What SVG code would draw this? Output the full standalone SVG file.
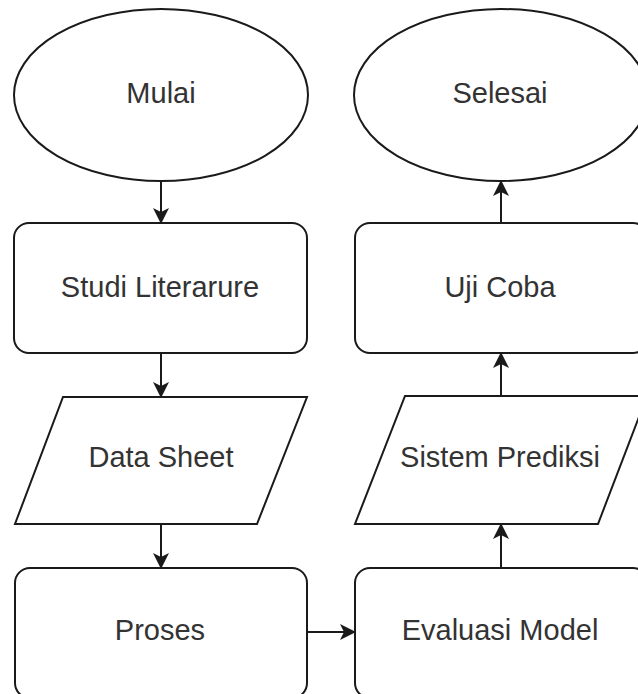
<svg xmlns="http://www.w3.org/2000/svg" width="638" height="694" viewBox="0 0 638 694">
  <style>
    .shape { fill: #ffffff; stroke: #1a1a1a; stroke-width: 2; }
    .label { font-family: "Liberation Sans", Arial, sans-serif; font-size: 29px; fill: #333333; text-anchor: middle; }
    .edge { fill: none; stroke: #1a1a1a; stroke-width: 2; marker-end: url(#arrow); }
  </style>
  <defs>
    <marker id="arrow" markerUnits="userSpaceOnUse" markerWidth="18" markerHeight="18" refX="15" refY="9" orient="auto">
      <path d="M0,1 L16,9 L0,17 L4,9 z" fill="#1a1a1a"/>
    </marker>
  </defs>
  <rect width="638" height="694" fill="#ffffff"/>

  <!-- left column -->
  <g id="mulai">
    <ellipse class="shape" cx="161" cy="95" rx="147" ry="86"/>
    <text class="label" x="161" y="103">Mulai</text>
  </g>
  <g id="studi-literarure">
    <rect class="shape" x="14" y="223" width="293" height="130" rx="15" ry="15"/>
    <text class="label" x="160" y="297">Studi Literarure</text>
  </g>
  <g id="data-sheet">
    <polygon class="shape" points="63,397 307,397 257,524 15,524"/>
    <text class="label" x="161" y="467">Data Sheet</text>
  </g>
  <g id="proses">
    <rect class="shape" x="15" y="568" width="292" height="130" rx="15" ry="15"/>
    <text class="label" x="160" y="640">Proses</text>
  </g>

  <!-- right column -->
  <g id="selesai">
    <ellipse class="shape" cx="501" cy="95" rx="147" ry="86"/>
    <text class="label" x="500" y="103">Selesai</text>
  </g>
  <g id="uji-coba">
    <rect class="shape" x="355" y="223" width="293" height="130" rx="15" ry="15"/>
    <text class="label" x="500" y="297">Uji Coba</text>
  </g>
  <g id="sistem-prediksi">
    <polygon class="shape" points="405,396 647,396 598,524 355,524"/>
    <text class="label" x="500" y="467">Sistem Prediksi</text>
  </g>
  <g id="evaluasi-model">
    <rect class="shape" x="355" y="568" width="293" height="130" rx="15" ry="15"/>
    <text class="label" x="500" y="640">Evaluasi Model</text>
  </g>

  <!-- connectors -->
  <g id="connectors">
    <path class="edge" d="M161,181 V223"/>
    <path class="edge" d="M161,353 V397"/>
    <path class="edge" d="M161,524 V568"/>
    <path class="edge" d="M307,632 H355"/>
    <path class="edge" d="M501,568 V524"/>
    <path class="edge" d="M501,396 V353"/>
    <path class="edge" d="M501,223 V181"/>
  </g>
</svg>
